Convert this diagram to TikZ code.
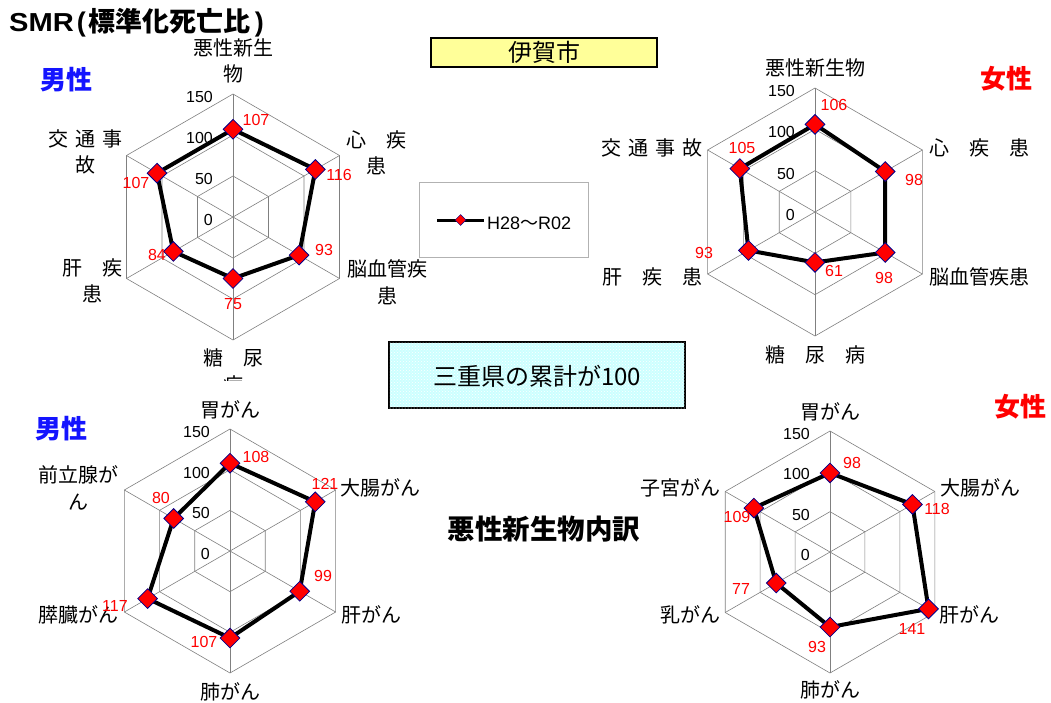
\documentclass[tikz,border=0pt]{standalone}
\usepackage{fontspec}
\setmainfont{Noto Sans CJK JP}
\newfontfamily\latinfont{Liberation Sans}
\usetikzlibrary{shapes.geometric,patterns,calc}

\definecolor{gridgray}{RGB}{128,128,128}
\definecolor{mkborder}{RGB}{0,0,140}
\definecolor{legyellow}{RGB}{255,255,153}
\definecolor{boxcyan}{RGB}{204,255,255}
\definecolor{sexblue}{RGB}{20,20,255}
\definecolor{sexred}{RGB}{255,0,0}

\newcommand{\gapx}{\hspace{0.35em}}

\tikzset{
  gridln/.style={draw=gridgray, line width=0.6pt},
  dataline/.style={line width=4pt, line join=round},
  mkdiam/.style={diamond, fill=red, draw=mkborder, line width=0.8pt, inner sep=0pt, minimum width=20pt, minimum height=20pt},
  catl/.style={font=\fontsize{20}{26.5}\selectfont, align=center, inner sep=0pt},
  vall/.style={text=red, font=\latinfont\fontsize{16}{18}\selectfont, inner sep=0pt},
  axl/.style={font=\latinfont\fontsize{16}{18}\selectfont, inner sep=0pt, anchor=east},
  sexm/.style={text=sexblue, font=\bfseries\fontsize{26}{30}\selectfont, inner sep=0pt},
  sexf/.style={text=sexred, font=\bfseries\fontsize{26}{30}\selectfont, inner sep=0pt},
}

\newcommand{\radarplot}[5]{%
  \coordinate (#1c) at (#2,#3);
  \foreach \lev in {50,100,150}{%
    \pgfmathsetmacro{\rr}{#4/150*\lev}
    \draw[gridln] ($(#1c)+(-90:\rr)$) -- ($(#1c)+(-30:\rr)$) -- ($(#1c)+(30:\rr)$) -- ($(#1c)+(90:\rr)$) -- ($(#1c)+(150:\rr)$) -- ($(#1c)+(210:\rr)$) -- cycle;
  }
  \foreach \ang in {-90,-30,30,90,150,210}{\draw[gridln] (#1c) -- ++(\ang:#4);}
  \foreach \val [count=\idx] in {#5}{%
    \pgfmathsetmacro{\rr}{#4/150*\val}
    \coordinate (#1p\idx) at ($(#1c)+({-150+60*\idx}:\rr)$);}
  \draw[dataline] (#1p1) -- (#1p2) -- (#1p3) -- (#1p4) -- (#1p5) -- (#1p6) -- cycle;
  \foreach \idx in {1,...,6}{\node[mkdiam] (#1m\idx) at (#1p\idx) {};}
  \foreach \lev in {0,50,100,150}{%
    \pgfmathsetmacro{\yy}{3-#4/150*\lev}
    \node[axl] (#1a\lev) at ($(#1c)+(-20,\yy)$) {\lev};}
}

\begin{document}
\begin{tikzpicture}[x=1pt,y=-1pt]
\useasboundingbox (0,0) rectangle (1051,702);
\fill[white] (0,0) rectangle (1051,702);

% title
\node[anchor=west, inner sep=0pt, font=\bfseries\fontsize{27}{30}\selectfont] (title) at (9,23) {{\latinfont\fontsize{26}{30}\selectfont\scalebox{1.12}[1]{SMR}}\hspace{3pt}{\latinfont(}\hspace{3pt}標準化死亡比\hspace{4pt}{\latinfont )}};

% ---------- chart A : male causes ----------
\radarplot{A}{233}{217}{123}{107,116,93,75,84,107}
\node[catl] (A1) at (233,61) {悪性新生\\物};
\node[catl] (A2) at (376,153) {心　疾\\患};
\node[catl] (A3) at (387,282) {脳血管疾\\患};
\node[catl] (A4) at (233,358) {糖　尿};
\begin{scope}
\clip (180,370) rectangle (290,380);
\node[catl] (A4b) at (233,384.5) {病};
\end{scope}
\node[catl] (A5) at (92,281) {肝　疾\\患};
\node[catl] (A6) at (85,152) {交\gapx 通\gapx 事\\故};
\node[vall] (Av1) at (256,120) {107};
\node[vall] (Av2) at (339,175) {116};
\node[vall] (Av3) at (324,250) {93};
\node[vall] (Av4) at (233,304) {75};
\node[vall] (Av5) at (157,255) {84};
\node[vall] (Av6) at (136,183) {107};
\node[sexm] (Asex) at (66,80) {男性};

% ---------- chart B : female causes ----------
\radarplot{B}{815}{212}{124}{106,98,98,61,93,105}
\node[catl] (B1) at (815,68) {悪性新生物};
\node[catl] (B2) at (979,148) {心　疾　患};
\node[catl] (B3) at (979,277) {脳血管疾患};
\node[catl] (B4) at (815,355) {糖　尿　病};
\node[catl] (B5) at (652,277) {肝　疾　患};
\node[catl] (B6) at (652,148) {交\gapx 通\gapx 事\gapx 故};
\node[vall] (Bv1) at (834,105) {106};
\node[vall] (Bv2) at (914,180) {98};
\node[vall] (Bv3) at (884,278) {98};
\node[vall] (Bv4) at (834,271) {61};
\node[vall] (Bv5) at (704,253) {93};
\node[vall] (Bv6) at (742,148) {105};
\node[sexf] (Bsex) at (1006,79) {女性};

% ---------- chart C : male cancers ----------
\radarplot{C}{230}{551}{122}{108,121,99,107,117,80}
\node[catl] (C1) at (230,410) {胃がん};
\node[catl] (C2) at (380,488) {大腸がん};
\node[catl] (C3) at (371,615) {肝がん};
\node[catl] (C4) at (230,692) {肺がん};
\node[catl] (C5) at (78,615) {膵臓がん};
\node[catl] (C6) at (78,488) {前立腺が\\ん};
\node[vall] (Cv1) at (256,457) {108};
\node[vall] (Cv2) at (325,484) {121};
\node[vall] (Cv3) at (323,576) {99};
\node[vall] (Cv4) at (204,642) {107};
\node[vall] (Cv5) at (115,606) {117};
\node[vall] (Cv6) at (161,498) {80};
\node[sexm] (Csex) at (61,429) {男性};

% ---------- chart D : female cancers ----------
\radarplot{D}{830}{552}{121}{98,118,141,93,77,109}
\node[catl] (D1) at (830,412) {胃がん};
\node[catl] (D2) at (980,488) {大腸がん};
\node[catl] (D3) at (969,615) {肝がん};
\node[catl] (D4) at (830,690) {肺がん};
\node[catl] (D5) at (690,615) {乳がん};
\node[catl] (D6) at (680,488) {子宮がん};
\node[vall] (Dv1) at (852,463) {98};
\node[vall] (Dv2) at (937,509) {118};
\node[vall] (Dv3) at (912,629) {141};
\node[vall] (Dv4) at (817,647) {93};
\node[vall] (Dv5) at (741,589) {77};
\node[vall] (Dv6) at (737,517) {109};
\node[sexf] (Dsex) at (1020,407) {女性};

% ---------- middle boxes ----------
\node[draw=black, line width=2pt, fill=legyellow, minimum width=226pt, minimum height=29pt, inner sep=0pt, font=\fontsize{24}{26}\selectfont] (iga) at (544,52.5) {伊賀市};

\node[draw=gray!60, line width=0.8pt, minimum width=169pt, minimum height=75pt, inner sep=0pt] (legend) at (503.5,219.5) {};
\coordinate (lgA) at (437,220);
\coordinate (lgB) at (484,220);
\draw[line width=3pt] (lgA) -- (lgB);
\node[mkdiam, minimum width=11pt, minimum height=11pt, line width=0.5pt] (lgm) at (460.5,220) {};
\node[anchor=west, inner sep=0pt, font=\fontsize{18}{20}\selectfont] (legtext) at (487,223) {{\latinfont H28}～{\latinfont R02}};

\node[draw=black, line width=2pt, fill=boxcyan, postaction={pattern=crosshatch dots, pattern color=white}, minimum width=296pt, minimum height=66pt, inner sep=0pt] (mie) at (537,375) {};
\node[inner sep=0pt, font=\fontsize{24}{26}\selectfont] (mietext) at (537,376) {三重県の累計が100};

\node[inner sep=0pt, font=\bfseries\fontsize{27.5}{30}\selectfont] (uchiwake) at (544,529) {悪性新生物内訳};

\end{tikzpicture}
\end{document}
